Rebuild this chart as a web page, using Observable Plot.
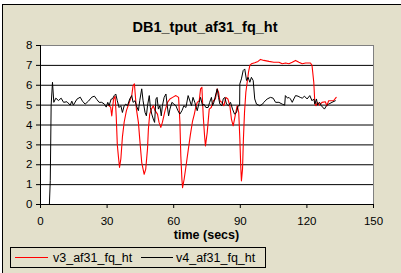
<!DOCTYPE html>
<html><head><meta charset="utf-8">
<script src="https://cdn.jsdelivr.net/npm/d3@7"></script>
<script src="https://cdn.jsdelivr.net/npm/@observablehq/plot@0.6"></script>
<style>body{margin:0;background:#fff;} svg{display:block}</style>
</head><body><div id="chart"></div>
<script>
const title = "DB1_tput_af31_fq_ht";
const xLabel = "time (secs)";
const seriesNames = ["v3_af31_fq_ht", "v4_af31_fq_ht"];
const seriesColors = ["#ff0000", "#000000"];
const xTicks = [0, 30, 60, 90, 120, 150];
const yTicks = [0, 1, 2, 3, 4, 5, 6, 7, 8];

const v3Time = [30.5,31.6,32.1,32.9,33.6,34.1,34.6,35.1,35.6,36.2,36.9,37.7,38.7,40,41.1,41.7,42.3,42.6,43.2,44.1,44.7,45.6,46.7,47.4,48.2,48.6,49.2,50,50.8,51.6,52.7,53.4,54.2,54.9,56.1,57.2,58.3,59.5,61,62.2,62.8,63.2,63.7,64,64.7,65.5,66.5,67.5,68.5,69.3,69.9,70.6,71.5,72.1,72.7,73.3,73.9,74.3,75.1,76,76.9,77.9,78.8,79.6,80.2,80.8,81.7,82.6,83.5,84.4,85.3,86,86.8,87.7,88.6,89.3,89.8,90.2,90.5,91,91.4,91.9,92.5,93.1,93.7,94.3,95,96.5,98,99.1,100.6,102.9,105.1,107.4,108.9,110.4,111.9,113.4,114.9,116.4,117.9,119.4,121.6,122.3,123.1,123.6,124.1,124.8,125.7,126.8,128.3,129,129.8,130.8,132,133.2];
const v3Value = [5.0,4.9,4.45,5.3,5.45,4.47,3.0,2.4,1.86,2.3,3.4,4.15,4.72,5.14,5.48,5.98,6.07,5.65,4.8,4.13,3.29,2.11,1.52,1.78,2.8,3.8,4.55,4.8,4.97,4.72,4.55,4.13,3.88,4.13,4.72,5.14,5.31,5.39,5.48,5.39,4.13,2.45,1.27,0.85,1.27,1.9,2.7,3.5,4.2,4.55,4.88,5.14,5.22,5.82,5.9,4.47,3.46,2.95,3.63,4.8,4.88,5.22,5.31,5.82,5.65,5.22,5.14,4.97,5.39,5.31,4.97,4.3,3.96,4.47,4.97,4.63,3.29,1.94,1.19,1.78,3.29,4.64,5.65,6.15,6.66,7.0,7.08,7.13,7.2,7.3,7.25,7.2,7.16,7.16,7.08,7.12,7.08,7.16,7.25,7.16,7.08,7.12,7.12,7.0,6.15,5.05,4.97,5.14,5.0,5.14,5.17,4.97,5.22,5.22,5.22,5.39];

const v4Time = [4,4.4,4.8,5.4,6,6.9,8.1,9.3,10.4,11.9,13.4,14.1,14.8,16.4,17.9,18.9,20.1,21.6,23.1,24.3,25.4,26.4,27.6,28.8,29.6,30.3,30.9,31.8,32.4,33.2,33.9,34.6,35.4,36.2,36.9,37.7,38.4,39.2,40.2,41.1,41.7,42.6,43.2,44.1,44.7,45.6,46.2,47.1,47.7,48.2,49,49.5,50.1,50.8,51.4,52,52.5,53.1,53.8,54.4,54.9,55.7,56.5,57.1,57.7,58.3,59.2,60.1,61,61.9,62.8,63.7,64.6,65.5,66.5,68,68.7,69.5,70.6,71.5,72.1,73,73.6,74.5,75.5,76.2,77,77.5,78.1,79,79.6,80.2,80.8,81.7,82.3,83,83.8,84.7,85.6,86.5,87.4,88.3,89,89.7,89.8,90.5,91.3,92,92.8,93.5,94.3,95,95.8,96.5,97.3,98.8,100,100.6,102.1,103.6,104.8,105.9,107.4,108.9,110,110.3,111.3,111.9,112.6,113.4,114.1,114.9,116,117,117.9,118.9,120.1,121.3,122.3,123.1,123.6,124.3,124.8,125.7,126.5,127.9,128.8,129.8,131.3,132.8];
const v4Value = [0,1.2,5.0,6.15,5.14,5.35,5.23,5.35,5.14,5.17,5.0,5.2,5.0,5.3,5.4,5.2,5.05,5.2,5.4,5.45,5.28,5.14,5.14,5.05,4.9,5.14,4.97,5.3,5.31,5.48,5.56,5.22,4.88,4.97,4.63,4.97,5.05,4.97,5.31,5.48,5.14,5.22,4.97,4.72,5.22,5.82,5.22,4.63,4.46,4.97,5.48,4.88,4.55,4.3,4.13,5.31,5.39,4.8,4.97,4.46,4.97,5.39,5.56,4.97,4.46,4.8,5.14,5.05,4.97,4.72,4.55,4.72,4.97,4.88,5.48,4.97,5.39,5.14,4.72,5.14,5.39,4.97,5.05,4.88,4.88,5.14,5.39,4.97,5.14,5.56,5.82,5.39,5.05,4.97,5.31,5.39,5.05,4.97,5.14,4.8,4.55,4.63,4.97,4.97,6.07,6.32,6.74,6.82,6.24,6.4,6.15,6.4,6.24,5.31,5.05,4.97,5.05,5.14,5.31,5.39,5.35,5.14,5.14,5.05,5.0,5.48,5.35,5.39,5.31,5.14,5.31,5.48,5.45,5.39,5.35,5.45,5.31,5.48,5.22,5.31,5.05,5.31,5.0,5.14,4.97,4.8,4.97,5.05,5.14,5.22];

const v3Rows = v3Time.map((t, i) => ({t, v: v3Value[i], s: seriesNames[0]}));
const v4Rows = v4Time.map((t, i) => ({t, v: v4Value[i], s: seriesNames[1]}));

const W = 401, H = 273;
const font = "'Liberation Sans', Arial, sans-serif";

const chart = Plot.plot({
  width: W, height: H,
  marginLeft: 40, marginRight: 28, marginTop: 45, marginBottom: 69,
  style: {background: "#ffffff", fontFamily: font, fontSize: "11.5px", color: "#000", overflow: "visible"},
  x: {domain: [0, 150], ticks: xTicks, label: null},
  y: {domain: [0, 8], ticks: yTicks, label: null},
  marks: [
    Plot.frame({fill: "#ffffff", stroke: "#808080"}),
    Plot.ruleY(yTicks.filter(d => d > 0 && d < 8), {stroke: "#000", strokeWidth: 1}),
    Plot.line(v3Rows, {x: "t", y: "v", stroke: seriesColors[0], strokeWidth: 1.1}),
    Plot.line(v4Rows, {x: "t", y: "v", stroke: seriesColors[1], strokeWidth: 1}),
    Plot.ruleY([0], {stroke: "#000"}),
    Plot.ruleX([0], {stroke: "#000"}),
    Plot.axisX({ticks: xTicks, tickSize: 4, tickPadding: 8, label: null, fontSize: 11.5}),
    Plot.axisY({ticks: yTicks, tickSize: 4, tickPadding: 4, label: null, fontSize: 11.5})
  ]
});

const svg = d3.select(chart);
// chart area background with border
svg.insert("rect", ":first-child")
  .attr("x", 2.5).attr("y", 4.5).attr("width", W + 10).attr("height", H + 10)
  .attr("fill", "#e3e0cb").attr("stroke", "#000").attr("stroke-width", 1);

// title
svg.append("text").attr("x", 205).attr("y", 32)
  .attr("text-anchor", "middle").attr("font-family", font)
  .attr("font-size", 14.5).attr("font-weight", "bold").attr("fill", "#000")
  .text(title);

// x axis label
svg.append("text").attr("x", 206.5).attr("y", 238.5)
  .attr("text-anchor", "middle").attr("font-family", font)
  .attr("font-size", 12.5).attr("font-weight", "bold").attr("fill", "#000")
  .text(xLabel);

// legend
const lg = svg.append("g").attr("font-family", font).attr("font-size", 12.5).attr("text-anchor", "start");
lg.append("rect").attr("x", 10.5).attr("y", 247.5).attr("width", 255).attr("height", 20)
  .attr("fill", "#e3e0cb").attr("stroke", "#000");
const items = [
  {x1: 15, x2: 48, tx: 53},
  {x1: 141, x2: 173, tx: 176}
];
seriesNames.forEach((name, i) => {
  const it = items[i];
  lg.append("line").attr("x1", it.x1).attr("x2", it.x2).attr("y1", 257.5).attr("y2", 257.5)
    .attr("stroke", seriesColors[i]).attr("stroke-width", 1);
  lg.append("text").attr("x", it.tx).attr("y", 262).attr("text-anchor", "start").attr("fill", "#000").text(name);
});

document.getElementById("chart").appendChild(chart);
</script>
</body></html>
